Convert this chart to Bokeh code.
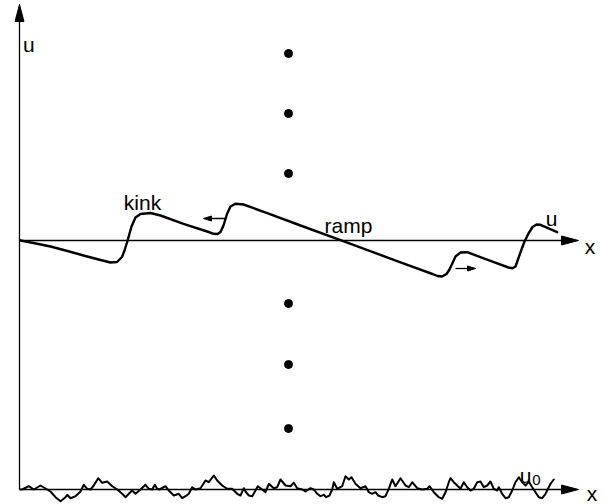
from bokeh.plotting import figure
from bokeh.models import Range1d
from bokeh.core.properties import value
from bokeh.embed import file_html
from bokeh.resources import INLINE

# ---- data (in picture pixel units) ----
curve_x = [20, 33, 50, 67, 83, 100, 110, 116.5, 121.5, 124, 126.5, 128.5, 131, 135, 140, 150, 160,
           183, 206.7, 213, 217, 220, 223, 226.5, 230, 235, 243, 266.7, 300, 340, 400, 432, 437,
           441.5, 446, 449, 452, 455, 460, 466.7, 493.3, 508, 512, 515, 518, 521, 524, 528, 532,
           536, 540, 556.7]
curve_y = [240, 242.5, 246, 250.5, 255, 259.5, 262, 261.5, 256.5, 250, 242, 235, 226, 217, 213.5,
           212.5, 215, 223.3, 231, 233.3, 233.5, 231.5, 225, 213.5, 206, 203.3, 204, 212.7, 225,
           239.7, 261.8, 273.5, 275.5, 276, 273.5, 269, 262.5, 256, 252, 251.7, 261.7, 267, 267.8,
           266, 257.5, 249, 241, 233, 226.5, 224, 224.3, 231.7]

noise_x = [20, 21.7, 28.3, 33.3, 40, 46.7, 50, 55, 60, 65, 66.7, 70, 75, 80, 83.3, 86.7, 90, 93.3,
           97.7, 101.7, 106.7, 111.7, 116.7, 121.7, 125, 128.3, 131.7, 135, 140, 145, 148.3,
           151.7, 154.3, 156.7, 159,
           165, 168.3, 173.3, 178.3, 181.7, 185, 188.3, 191.7, 195, 200, 205, 208.3, 213.3, 216.7,
           221.7, 226.7, 231.7, 236.7, 240, 243.3, 245, 248.3, 251.7, 255, 257.3, 261.7, 265,
           268.3, 273.3, 276.7, 280, 285, 290, 293.3, 296.7, 301.7,
           305, 310, 313.3, 316.7, 320, 323.3, 325.7, 329, 331.7, 333.3, 336.7, 341.7, 345, 348.3,
           351, 355, 360, 365, 368.3, 371.7, 375, 377.7, 381.7, 385, 388.3, 391.7, 395, 400, 405,
           408.3, 411.7, 416.7, 421.7, 426.7, 429, 433.3, 438.3, 441.7, 445, 448.3, 450,
           453.3, 456.7, 460, 463.3, 466.7, 470, 473.3, 476.7, 480, 483.3, 486.7, 490, 493.3,
           496.7, 498.3, 501.7, 505, 508.3, 511.7, 515, 518.3, 521.7, 525, 528.3, 531.7, 535,
           538.3, 541.7, 545, 550, 553.3]
noise_y = [489, 489, 485.7, 489, 485, 489, 491, 496.7, 500.7, 496.7, 494.3, 497.7, 495.7, 491,
           484.3, 488.3, 489, 485, 477.7, 482.3, 481, 485.7, 489, 493.3, 496.7, 493.3, 490,
           493.3, 489, 484.3, 488.3, 489, 484.3, 488.3, 489,
           485.7, 490, 495, 493.3, 497.7, 495.7, 493.3, 486.7, 489, 487.7, 480, 481.7, 475, 480,
           485, 488.3, 488.3, 493.3, 495, 487.7, 491, 495, 495.7, 490, 485.7, 489, 491.7, 483.3,
           487.7, 486.7, 479, 485, 485.7, 482.3, 487.7, 489,
           491, 487.7, 489, 493.3, 495.7, 494.3, 496.7, 495, 489, 481.7, 488.3, 485.7, 475.7, 479,
           476.7, 483.3, 487.7, 485.7, 491.7, 493.3, 491.7, 495, 496.7, 495.7, 488.3, 479, 485.7,
           477.7, 485, 486.7, 481.7, 487.7, 489, 488.3, 485.7, 491.7, 496.7, 498.3, 491.7, 481.7,
           477.7,
           481.7, 485, 488.3, 481.7, 486.7, 490, 488.3, 481.7, 481, 486.7, 485, 481, 488.3, 490,
           486.7, 493.3, 497.7, 496.7, 490, 481.7, 476.7, 481.7, 485, 481, 486.7, 491.7, 496.7,
           497.7, 493.3, 483.3, 479]

dots_x = [288, 288, 288, 288, 288, 288]
dots_y = [53, 113, 173, 303, 364, 428]

labels = ["u", "kink", "ramp", "u", "x", "x", "u"]
label_x = [28.3, 142, 348, 551, 589.5, 591.5, 525]
label_y = [44, 201.7, 224.7, 218.3, 245.5, 492.5, 475]
sub_label = ["0"]
sub_x = [536]
sub_y = [479]

# axes: (x0, y0, x1, y1) line and arrow tip
axis_lines = [(19, 489, 19, 14), (19, 240, 566, 240), (19, 489, 566, 489)]
axis_tips = [(19, 4, 0, -1), (578, 240, 1, 0), (578, 489, 1, 0)]
small_lines = [(226, 218, 208, 218), (455, 268, 470, 268)]
small_tips = [(203, 218, -1, 0), (475, 268, 1, 0)]

W, H = 605, 504
p = figure(width=W, height=H, output_backend="svg", toolbar_location=None,
           x_range=Range1d(0, W), y_range=Range1d(H, 0),
           x_axis_location=None, y_axis_location=None, min_border=0)
p.outline_line_color = None
p.grid.visible = False
p.background_fill_color = "white"


def head(tx, ty, dx, dy, L, Wd):
    bx, by = tx - dx * L, ty - dy * L
    nx, ny = -dy, dx
    return [tx, bx + nx * Wd / 2, bx - nx * Wd / 2], [ty, by + ny * Wd / 2, by - ny * Wd / 2]


for (x0, y0, x1, y1) in axis_lines:
    p.line([x0, x1], [y0, y1], line_color="black", line_width=1.3)
hx, hy = [], []
for (tx, ty, dx, dy) in axis_tips:
    a, b = head(tx, ty, dx, dy, 17, 9)
    hx.append(a); hy.append(b)
for (x0, y0, x1, y1) in small_lines:
    p.line([x0, x1], [y0, y1], line_color="black", line_width=1.3)
for (tx, ty, dx, dy) in small_tips:
    a, b = head(tx, ty, dx, dy, 8, 5)
    hx.append(a); hy.append(b)
p.patches(hx, hy, fill_color="black", line_color="black", line_width=1)

p.line(curve_x, curve_y, line_color="black", line_width=2.4, line_join="round", line_cap="round")
p.line(noise_x, noise_y, line_color="black", line_width=2.0, line_join="round", line_cap="round")
p.scatter(dots_x, dots_y, size=8, fill_color="black", line_color="black")

p.text(label_x, label_y, text=labels, text_font=value("Liberation Sans"),
       text_font_size="21px", text_align="center", text_baseline="alphabetic", text_color="black")
p.text(sub_x, sub_y, text=sub_label, text_font=value("Liberation Sans"),
       text_font_size="15px", text_align="center", text_baseline="alphabetic", text_color="black")

open("out.html", "w").write(file_html(p, INLINE))
